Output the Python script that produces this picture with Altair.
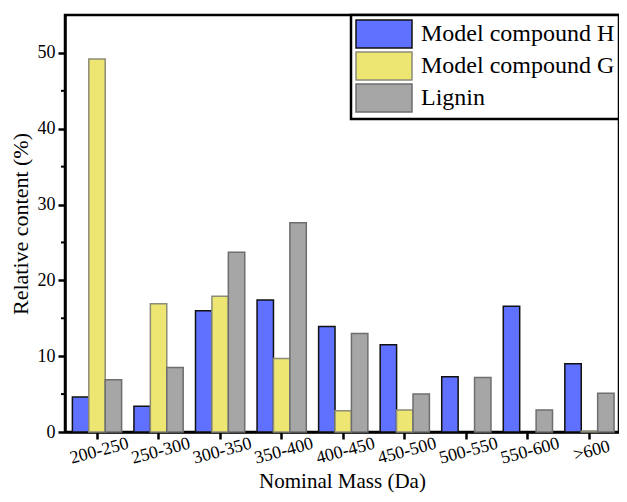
import altair as alt
import pandas as pd

categories = ["200-250", "250-300", "300-350", "350-400", "400-450",
              "450-500", "500-550", "550-600", ">600"]
series = ["Model compound H", "Model compound G", "Lignin"]
h_values = [4.6, 3.4, 16.0, 17.4, 13.9, 11.5, 7.3, 16.6, 9.0]
g_values = [49.2, 16.9, 17.9, 9.7, 2.8, 2.9, 0, 0, 0.1]
lignin_values = [6.9, 8.5, 23.7, 27.6, 13.0, 5.0, 7.2, 2.9, 5.1]
fill_colors = ["#5F71FE", "#EEE673", "#A6A6A6"]
stroke_colors = ["#111111", "#8C8C78", "#6E6E6E"]
major_ticks = [0, 10, 20, 30, 40, 50]
minor_ticks = [5, 15, 25, 35, 45]

rows = []
for s, vals in zip(series, [h_values, g_values, lignin_values]):
    for c, v in zip(categories, vals):
        rows.append({"range": c, "series": s, "value": v})
df = pd.DataFrame(rows)
minor_df = pd.DataFrame({"value": minor_ticks})

FONT = "Liberation Serif"
yscale = alt.Scale(domain=[0, 55], nice=False, zero=True)

bars = alt.Chart(df).transform_filter("datum.value > 0").mark_bar(strokeWidth=1.5).encode(
    x=alt.X("range:N", sort=categories,
            scale=alt.Scale(paddingInner=0.2, paddingOuter=0.1, align=0.6),
            axis=alt.Axis(title="Nominal Mass (Da)", labelAngle=345, labelAlign="center",
                          labelBaseline="top", labelFontSize=18, labelPadding=3,
                          titleFontSize=21, titlePadding=3, tickSize=7, tickWidth=2.5,
                          domainWidth=2.5)),
    y=alt.Y("value:Q", scale=yscale,
            axis=alt.Axis(title="Relative content (%)", values=major_ticks, labelFontSize=18,
                          titleFontSize=22, tickSize=7, tickWidth=2.5, domainWidth=2.5,
                          labelPadding=3, titlePadding=5, grid=False)),
    xOffset=alt.XOffset("series:N", sort=series, scale=alt.Scale(domain=series)),
    color=alt.Color("series:N", sort=series,
                    scale=alt.Scale(domain=series, range=fill_colors),
                    legend=alt.Legend(title=None, orient="top-right")),
    stroke=alt.Stroke("series:N", sort=series,
                      scale=alt.Scale(domain=series, range=stroke_colors),
                      legend=alt.Legend(title=None, orient="top-right")),
)

minor = alt.Chart(minor_df).mark_rule(color="black", strokeWidth=2).encode(
    y=alt.Y("value:Q", scale=yscale),
    x=alt.value(-4),
    x2=alt.value(0),
)

chart = alt.layer(bars, minor).properties(
    width=554, height=417,
    autosize=alt.AutoSizeParams(type="none"),
    padding={"left": 57, "top": 7, "right": 0, "bottom": 62},
).configure_view(
    stroke="black", strokeWidth=2.5
).configure_axis(
    labelFont=FONT, titleFont=FONT, labelColor="black", titleColor="black",
    domainColor="black", tickColor="black", titleFontWeight="normal"
).configure_legend(
    labelFont=FONT, labelFontSize=24, labelColor="black",
    symbolType="M-1,-1H3V1H-1Z", symbolSize=784, symbolStrokeWidth=1.5,
    symbolOpacity=1, rowPadding=-3, padding=4, offset=0, labelOffset=36,
    fillColor="white", strokeColor="black", strokeWidth=2.5, labelLimit=400,
)

chart.save("out.html", embed_options={"renderer": "svg", "actions": False})
